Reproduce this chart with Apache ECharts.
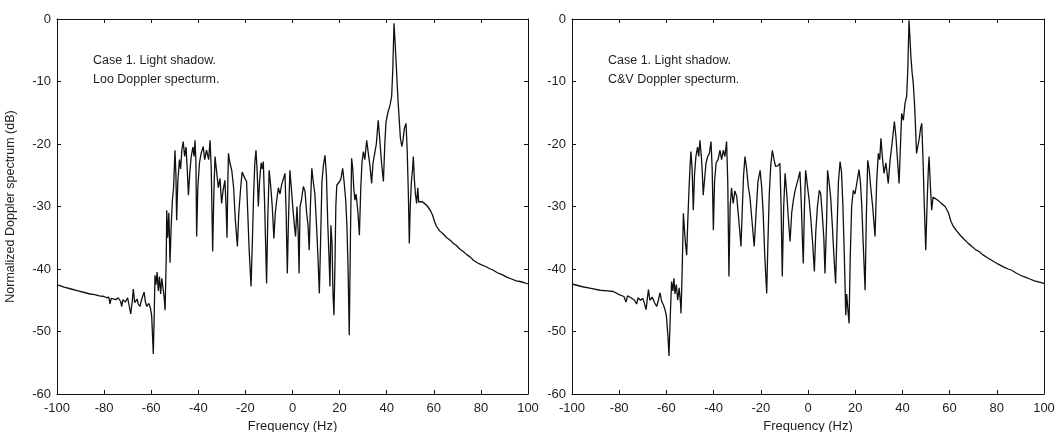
<!DOCTYPE html>
<html>
<head>
<meta charset="utf-8">
<script src="https://cdn.jsdelivr.net/npm/echarts@6/dist/echarts.min.js"></script>
<style>
  html, body { margin: 0; padding: 0; background: #fff; }
  #chart { width: 1055px; height: 432px; }
</style>
</head>
<body>
<div id="chart"></div>
<script>
// Frequency ticks and dB ticks
const freqTicks = [-100, -80, -60, -40, -20, 0, 20, 40, 60, 80, 100];
const dbTicks = [-60, -50, -40, -30, -20, -10, 0];

// Loo Doppler spectrum: frequency (Hz) and normalized level (dB)
const looFreq = [
  -100, -97, -94, -91, -88, -86, -84, -82, -80, -79, -78, -77.5, -77, -75, -74, -73, -72.5, -72, -71, -70,
  -69.5, -68.7, -68, -67.6, -67, -66, -65.5, -64.8, -64, -63, -62.5, -61.9, -61, -60.3, -59.8, -59.1, -58.7, -58.4, -58, -57.5,
  -57, -56.5, -56, -55.5, -55, -54.5, -54.1, -53.6, -53.4, -53, -52.5, -52, -51.5, -51, -50.5, -49.9, -49.5, -49.2, -48.7, -48,
  -47.5, -47, -46.4, -45.8, -45.2, -44.7, -44.2, -43.6, -43, -42.3, -41.8, -41.4, -41, -40.7, -40.2, -39.5, -38.8, -37.9, -37.3, -36.5,
  -35.6, -35, -34.5, -33.9, -33.4, -32.9, -32.2, -31.5, -30.8, -30.1, -29.5, -28.7, -28.2, -27.8, -27.5, -27.2, -26.6, -25.8, -25, -24.3,
  -23.4, -22.8, -22, -21.4, -20.9, -20.2, -19.5, -19, -18.4, -17.6, -17, -16.5, -16, -15.5, -15, -14.5, -14, -13.3, -12.8, -12.4,
  -11.8, -11, -10.5, -9.9, -9.2, -8.6, -7.9, -7.3, -6.7, -6, -5.3, -4.6, -3.8, -3.2, -2.7, -2.2, -1.7, -1.1, -0.5, 0.2,
  0.8, 1.3, 1.9, 2.4, 2.8, 3.2, 3.8, 4.6, 5.3, 6, 6.6, 7.1, 7.6, 8.2, 8.8, 9.5, 10.2, 10.8, 11.4, 11.9,
  12.5, 13.1, 13.8, 14.4, 15, 15.5, 15.9, 16.3, 16.8, 17.2, 17.6, 18, 18.4, 18.8, 19.4, 20, 20.6, 21.3, 21.9, 22.6,
  23.1, 23.6, 24.1, 24.6, 25.1, 25.6, 26, 26.5, 27, 27.8, 28.4, 29, 29.5, 30.1, 30.7, 31.5, 32.2, 32.9, 33.6, 34.2,
  34.9, 35.6, 36.4, 37, 37.8, 38.6, 39.2, 39.7, 40, 40.6, 41.3, 42.1, 42.6, 43.1, 43.6, 44.3, 44.8, 45.3, 45.8, 46.4,
  46.9, 47.5, 48.2, 48.7, 49.2, 49.6, 50, 50.5, 51, 51.3, 51.8, 52.2, 52.7, 53.2, 53.6, 54.1, 55, 56, 57, 57.7,
  58.5, 59.5, 60.3, 61.2, 62.5, 64, 65.5, 67, 68.3, 69.5, 71, 72.5, 74, 75.5, 76.8, 78.5, 80, 82, 84, 85.3,
  87, 89, 91, 93, 95, 96.6, 98.5, 100
];
const looDb = [
  -42.5, -42.9, -43.2, -43.5, -43.8, -44.0, -44.1, -44.3, -44.4, -44.6, -44.5, -45.6, -44.7, -44.9, -44.6, -45.2, -46.0, -44.9, -45.3, -44.6,
  -45.6, -47.2, -45.0, -43.2, -45.4, -44.8, -45.6, -46.0, -44.8, -43.7, -45.2, -46.0, -45.5, -46.3, -47.5, -53.6, -47.0, -41.0, -42.5, -40.5,
  -43.5, -41.2, -44.0, -41.5, -43.0, -44.5, -46.6, -38.0, -30.6, -35.0, -31.0, -39.0, -33.0, -29.0, -27.0, -21.0, -25.0, -32.2, -26.0, -22.5,
  -24.0, -21.0, -19.6, -22.0, -20.5, -24.0, -28.2, -24.5, -22.0, -20.5, -22.0, -19.4, -23.0, -34.8, -27.0, -23.0, -21.5, -20.4, -22.5, -21.0,
  -22.5, -19.4, -24.0, -37.2, -28.0, -22.0, -24.5, -27.0, -25.5, -29.5, -27.5, -25.8, -30.0, -35.0, -27.0, -21.5, -23.0, -24.2, -27.0, -32.0,
  -36.4, -31.0, -27.0, -24.5, -24.2, -25.5, -26.0, -31.0, -37.0, -42.8, -35.0, -28.0, -23.0, -21.0, -24.5, -30.0, -26.0, -23.0, -24.0, -22.8,
  -30.0, -42.3, -32.0, -24.2, -27.0, -30.0, -35.1, -31.0, -29.0, -27.0, -28.0, -26.5, -25.5, -24.7, -31.0, -40.7, -32.0, -24.2, -27.0, -30.5,
  -33.0, -34.8, -30.0, -34.0, -40.7, -30.0, -29.0, -26.8, -27.5, -31.0, -33.0, -37.0, -30.0, -23.9, -26.0, -28.0, -33.0, -38.0, -43.9, -36.0,
  -26.0, -23.5, -21.8, -25.0, -33.0, -38.0, -42.8, -33.0, -36.0, -44.0, -47.4, -40.0, -30.0, -26.6, -26.8, -26.0, -25.5, -23.9, -26.0, -29.0,
  -33.0, -40.0, -50.6, -35.0, -22.3, -24.0, -27.0, -29.0, -28.0, -31.0, -34.6, -27.0, -23.0, -21.2, -22.5, -19.4, -21.5, -23.5, -26.3, -23.0,
  -21.5, -20.0, -16.2, -19.0, -23.0, -26.0, -20.0, -16.5, -16.2, -14.8, -14.0, -12.4, -8.0, -0.7, -4.0, -9.2, -13.0, -16.0, -19.0, -20.4,
  -19.5, -17.5, -16.7, -21.0, -28.0, -35.9, -30.0, -26.0, -24.0, -22.0, -26.0, -28.0, -29.5, -27.0, -29.3, -29.0, -29.2, -29.5, -29.8, -30.0,
  -30.6, -31.4, -32.4, -33.2, -33.9, -34.4, -35.0, -35.4, -35.9, -36.2, -36.8, -37.2, -37.7, -38.1, -38.6, -39.0, -39.3, -39.6, -40.0, -40.2,
  -40.6, -40.9, -41.3, -41.6, -41.9, -42.0, -42.2, -42.4
];

// C&V Doppler spectrum: frequency (Hz) and normalized level (dB)
const cvFreq = [
  -100, -96, -92, -88.1, -85, -82.5, -80, -78, -77.1, -76.5, -75, -73.5, -72.6, -72, -71, -70, -69.3, -68.6, -68, -67.6,
  -67, -66, -65, -64.1, -63.4, -62.7, -62, -61.2, -60.6, -60, -59.3, -58.9, -58.4, -57.8, -57.3, -56.8, -56.4, -55.8, -55.2, -54.6,
  -54, -53.8, -53.3, -52.8, -52.3, -51.9, -51.4, -51, -50.4, -49.9, -49.6, -49.1, -48.6, -48.1, -47.5, -46.8, -46.3, -45.8, -45.2, -44.8,
  -44.4, -43.9, -43.2, -42.5, -41.8, -41.1, -40.6, -40.1, -39.6, -38.9, -38.1, -37.3, -36.6, -35.9, -35.2, -34.5, -34, -33.5, -33, -32.4,
  -31.7, -31, -30.2, -29.6, -28.9, -28.4, -27.8, -27.3, -26.7, -26, -25.3, -24.6, -23.8, -22.8, -22, -21.2, -20.3, -19.6, -19, -18.3,
  -17.5, -17, -16.4, -15.8, -15.1, -14.4, -13.7, -12.8, -11.9, -11.4, -10.9, -10.3, -9.7, -9, -8.3, -7.6, -6.9, -6.2, -5.5, -4.8,
  -4.1, -3.4, -2.8, -2.3, -2, -1.5, -1, -0.3, 0.5, 1.2, 2, 2.7, 3.3, 4, 4.8, 5.4, 6, 6.7, 7.2, 7.5,
  7.9, 8.3, 8.9, 9.6, 10.3, 11, 11.7, 12.2, 12.9, 13.6, 14.2, 14.8, 15.4, 16, 16.4, 16.8, 17.4, 17.9, 18.5, 19.2,
  19.9, 20.8, 21.6, 22.2, 22.8, 23.4, 24.2, 24.7, 25.3, 25.9, 26.6, 27.4, 28.4, 29.1, 29.8, 30.4, 30.9, 31.5, 32.2, 33,
  34, 34.8, 35.6, 36.6, 37.3, 38, 38.6, 39.2, 39.7, 40.4, 41.1, 41.8, 42.3, 42.8, 43.2, 43.6, 44.1, 44.6, 45.2, 46,
  46.5, 47.2, 47.7, 48.2, 48.7, 49.3, 49.9, 50.5, 51, 51.3, 51.9, 52.4, 53, 53.5, 53.8, 55, 56.5, 58.1, 59.5, 60.6,
  61.6, 63, 64.5, 66, 67.9, 69.5, 71, 72.5, 74, 76, 77.8, 79.5, 81, 83, 84.8, 86.3, 88, 90, 92, 94,
  96, 98, 100
];
const cvDb = [
  -42.4, -42.8, -43.1, -43.4, -43.5, -43.6, -44.1, -44.4, -45.3, -44.3, -44.6, -45.0, -45.6, -44.6, -45.0, -44.7, -45.5, -46.5, -44.5, -43.3,
  -45.0, -44.5, -45.4, -46.0, -45.0, -43.8, -45.2, -45.8, -46.5, -47.5, -51.0, -53.9, -48.0, -42.0, -43.5, -41.5, -44.0, -42.5, -45.0, -43.0,
  -45.5, -47.1, -40.0, -31.1, -34.0, -36.0, -37.8, -33.0, -27.0, -23.0, -21.2, -24.0, -30.6, -25.0, -22.0, -20.5, -22.0, -19.4, -22.0, -24.5,
  -28.2, -26.0, -23.0, -22.0, -21.5, -19.6, -24.0, -33.8, -26.0, -23.0, -22.5, -21.0, -22.5, -21.0, -22.0, -19.6, -26.0, -41.2, -30.0, -27.0,
  -29.5, -27.5, -28.4, -31.0, -34.0, -36.4, -30.0, -25.0, -22.0, -24.0, -26.8, -28.5, -32.0, -36.4, -31.0, -26.0, -24.2, -27.0, -31.0, -38.0,
  -43.9, -36.0, -28.0, -23.5, -21.0, -22.5, -23.6, -23.5, -23.1, -30.0, -41.2, -30.0, -24.7, -28.0, -32.0, -35.6, -31.0, -29.0, -27.5, -26.5,
  -25.5, -24.4, -30.0, -36.0, -39.1, -30.0, -24.2, -26.5, -29.0, -32.0, -36.0, -40.4, -34.0, -30.0, -27.4, -28.0, -31.0, -35.0, -40.7, -41.0,
  -32.0, -24.2, -26.0, -28.5, -33.0, -38.0, -42.3, -35.0, -26.0, -22.8, -24.5, -30.0, -38.0, -47.4, -44.0, -46.0, -48.7, -38.0, -30.0, -27.4,
  -28.0, -26.0, -24.1, -26.0, -30.0, -36.0, -43.4, -32.0, -22.6, -24.0, -27.0, -30.0, -34.8, -26.0, -21.5, -22.5, -19.1, -22.0, -24.7, -23.0,
  -26.3, -22.5, -20.0, -16.4, -19.0, -23.0, -26.3, -20.0, -15.1, -16.2, -13.5, -12.4, -8.0, -0.2, -3.0, -6.0, -8.5, -10.3, -14.0, -21.5,
  -21.5, -19.0, -17.5, -16.7, -22.0, -30.0, -37.0, -29.0, -24.0, -22.0, -27.0, -30.6, -28.5, -28.4, -28.7, -29.0, -29.5, -30.0, -31.0, -32.4,
  -33.2, -33.9, -34.6, -35.2, -35.9, -36.4, -36.9, -37.2, -37.7, -38.2, -38.6, -39.0, -39.3, -39.7, -40.0, -40.2, -40.6, -41.0, -41.3, -41.6,
  -41.9, -42.1, -42.3
];

const panelNotes = [
  ['Case 1. Light shadow.', 'Loo Doppler specturm.'],
  ['Case 1. Light shadow.', 'C&V Doppler specturm.']
];
const xTitle = 'Frequency (Hz)';
const yTitle = 'Normalized Doppler spectrum (dB)';

const ink = '#111';
const textInk = '#1e1e1e';
const font = 'Liberation Sans, Arial, sans-serif';
const pairs = (xs, ys) => xs.map((x, i) => [x, ys[i]]);

const chart = echarts.init(document.getElementById('chart'), null, { renderer: 'canvas' });

// Fixed plot rectangles; labels may sit outside them freely
const grids = [
  { left: 57, top: 19, width: 471, height: 375, outerBoundsMode: 'none', containLabel: false },
  { left: 572, top: 19, width: 472, height: 375, outerBoundsMode: 'none', containLabel: false }
];

const lineCommon = { show: true, onZero: false, lineStyle: { color: ink, width: 1 } };
const tickCommon = { show: true, inside: true, length: 4, lineStyle: { color: ink, width: 1 } };
const labelStyle = { color: textInk, fontSize: 13, fontFamily: font };

function xAxes(gi) {
  return [
    {
      gridIndex: gi, type: 'value', position: 'bottom',
      min: freqTicks[0], max: freqTicks[freqTicks.length - 1], interval: 20,
      axisLine: lineCommon, axisTick: tickCommon, splitLine: { show: false },
      axisLabel: Object.assign({ margin: 8 }, labelStyle),
      name: xTitle, nameLocation: 'middle', nameGap: 22,
      nameTextStyle: { color: textInk, fontSize: 13, fontFamily: font }
    },
    {
      gridIndex: gi, type: 'value', position: 'top',
      min: freqTicks[0], max: freqTicks[freqTicks.length - 1], interval: 20,
      axisLine: lineCommon, axisTick: tickCommon, splitLine: { show: false },
      axisLabel: { show: false }
    }
  ];
}
function yAxes(gi) {
  const main = {
    gridIndex: gi, type: 'value', position: 'left',
    min: dbTicks[0], max: dbTicks[dbTicks.length - 1], interval: 10,
    axisLine: lineCommon, axisTick: tickCommon, splitLine: { show: false },
    axisLabel: Object.assign({ margin: 6 }, labelStyle)
  };
  if (gi === 0) {
    Object.assign(main, {
      name: yTitle, nameLocation: 'middle', nameGap: 40, nameRotate: 90,
      nameTextStyle: { color: textInk, fontSize: 12.5, fontFamily: font }
    });
  }
  return [
    main,
    {
      gridIndex: gi, type: 'value', position: 'right',
      min: dbTicks[0], max: dbTicks[dbTicks.length - 1], interval: 10,
      axisLine: lineCommon, axisTick: tickCommon, splitLine: { show: false },
      axisLabel: { show: false }
    }
  ];
}

function noteText(gi) {
  const g = grids[gi];
  return {
    type: 'text', left: g.left + 36, top: 51,
    style: {
      text: panelNotes[gi].join('\n'), fill: textInk, font: '12.5px ' + font, lineHeight: 19
    }
  };
}

const spectrumLine = (name, xs, ys, gi) => ({
  name, type: 'line', xAxisIndex: gi * 2, yAxisIndex: gi * 2,
  data: pairs(xs, ys), showSymbol: false, symbol: 'none', smooth: false,
  lineStyle: { color: ink, width: 1.3 }, animation: false, silent: true
});

chart.setOption({
  backgroundColor: '#fff',
  animation: false,
  grid: grids,
  xAxis: [...xAxes(0), ...xAxes(1)],
  yAxis: [...yAxes(0), ...yAxes(1)],
  series: [
    spectrumLine('Loo', looFreq, looDb, 0),
    spectrumLine('C&V', cvFreq, cvDb, 1)
  ],
  graphic: [noteText(0), noteText(1)]
});
</script>
</body>
</html>
